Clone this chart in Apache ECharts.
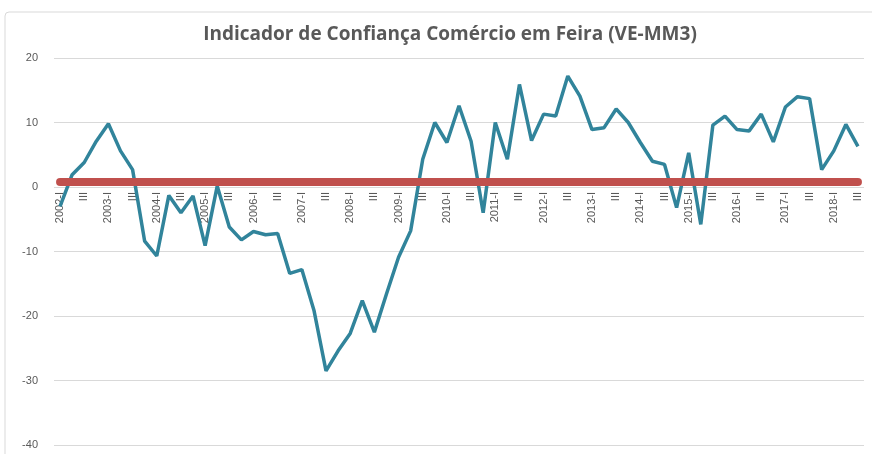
<!DOCTYPE html>
<html>
<head>
<meta charset="utf-8">
<script src="https://cdn.jsdelivr.net/npm/echarts@6/dist/echarts.min.js"></script>
<style>
html,body{margin:0;padding:0;background:#fff;}
#chart{width:872px;height:454px;}
</style>
</head>
<body>
<div id="chart"></div>
<script>
const years = [2002,2003,2004,2005,2006,2007,2008,2009,2010,2011,2012,2013,2014,2015,2016,2017,2018];
const quarters = ['I','II','III','IV'];
const categories = [];
years.forEach(y => quarters.forEach(q => categories.push(y + '-' + q)));
categories.length = 67; // 2002-I .. 2018-III

const indicador = [
  -3.0, 1.9, 3.8, 7.1, 9.8, 5.6, 2.7, -8.4, -10.7, -1.3,
  -4.0, -1.4, -9.1, 0.15, -6.2, -8.2, -6.9, -7.4, -7.2, -13.4,
  -12.8, -19.1, -28.5, -25.4, -22.7, -17.6, -22.5, -16.6, -10.9, -6.8,
  4.3, 10.0, 6.9, 12.6, 7.1, -4.0, 10.0, 4.3, 15.9, 7.2,
  11.3, 11.0, 17.2, 14.1, 8.9, 9.2, 12.1, 10.0, 6.9, 4.0,
  3.5, -3.2, 5.3, -5.8, 9.6, 11.0, 8.9, 8.7, 11.3, 7.0,
  12.4, 14.0, 13.7, 2.7, 5.6, 9.7, 6.3
];
const referenceLevel = 0.8;
const yTicks = {min: -40, max: 20, interval: 10};

const W = 872, H = 454;
const gridBox = {left: 54, right: 8, top: 58, bottom: 9};
const plotH = H - gridBox.top - gridBox.bottom;
// move the category axis up to the value 0 line
const zeroOffset = -plotH * (0 - yTicks.min) / (yTicks.max - yTicks.min);

const chart = echarts.init(document.getElementById('chart'));
chart.setOption({
  animation: false,
  backgroundColor: '#ffffff',
  graphic: [{
    type: 'rect',
    shape: {x: 5, y: 12, width: 900, height: 500, r: 4},
    style: {fill: 'none', stroke: '#d9d9d9', lineWidth: 1},
    silent: true
  }],
  title: {
    text: 'Indicador de Confiança Comércio em Feira (VE-MM3)',
    left: 445, top: 20, textAlign: 'center',
    textStyle: {fontFamily: 'Open Sans', fontWeight: 'bold', fontSize: 19, color: '#595959'}
  },
  grid: Object.assign({containLabel: false, outerBoundsMode: 'none'}, gridBox),
  xAxis: {
    type: 'category',
    data: categories,
    boundaryGap: true,
    offset: zeroOffset,
    axisLine: {show: false, onZero: false},
    axisTick: {show: false},
    axisLabel: {
      interval: 1, rotate: 90, margin: 5,
      fontFamily: 'Liberation Sans', fontSize: 11, color: '#595959',
      formatter: v => v.endsWith('-I') ? v : v.split('-')[1]
    }
  },
  yAxis: {
    type: 'value',
    min: yTicks.min, max: yTicks.max, interval: yTicks.interval,
    axisLine: {show: false},
    axisTick: {show: false},
    axisLabel: {fontFamily: 'Liberation Sans', fontSize: 11, color: '#595959', margin: 16},
    splitLine: {lineStyle: {color: '#d9d9d9', width: 1}}
  },
  series: [{
    type: 'line',
    data: indicador,
    symbol: 'none',
    lineStyle: {color: '#31849b', width: 3.5},
    z: 3,
    markLine: {
      silent: true,
      symbol: 'none',
      label: {show: false},
      lineStyle: {color: '#c0504d', width: 8, type: 'solid', cap: 'round'},
      data: [[
        {xAxis: categories[0], yAxis: referenceLevel},
        {xAxis: categories[categories.length - 1], yAxis: referenceLevel}
      ]]
    }
  }]
});
</script>
</body>
</html>
